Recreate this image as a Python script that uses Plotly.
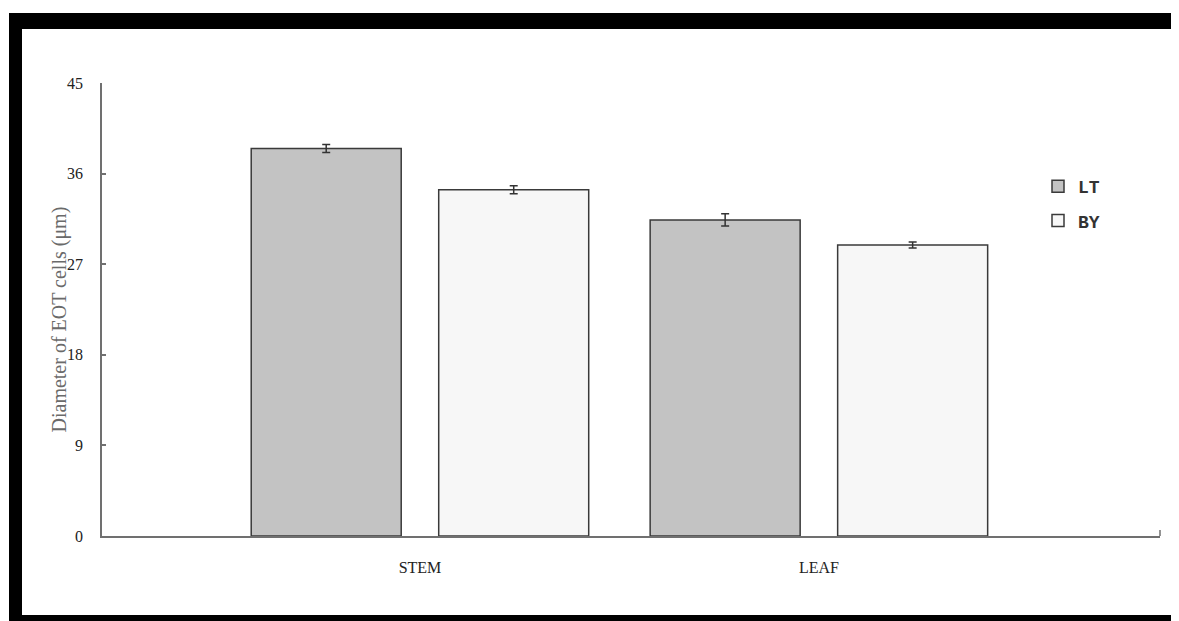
import plotly.graph_objects as go

categories = ["STEM", "LEAF"]
lt_values = [38.5, 31.4]
lt_errors = [0.4, 0.6]
by_values = [34.4, 28.9]
by_errors = [0.4, 0.3]
y_ticks = [0, 9, 18, 27, 36, 45]

OFF = 8  # page body margin
W, H = 1179, 621
L, R, T, B = 102 - OFF, 1160 - OFF, 83 - OFF, 536 - OFF
pw, ph = R - L, B - T

def px(x):
    return (x - OFF - L) / pw

def py(y):
    return (B - (y - OFF)) / ph

fig = go.Figure()
fig.add_trace(go.Bar(
    x=categories, y=lt_values, name="<b>LT</b>",
    marker=dict(color="#c3c3c3", line=dict(color="#3a3a3a", width=1.5)),
    error_y=dict(type="data", array=lt_errors, color="#333333", thickness=1.5, width=4),
    legendgroup="a",
))
fig.add_trace(go.Bar(
    x=categories, y=by_values, name="<b>BY</b>",
    marker=dict(color="#f7f7f7", line=dict(color="#3a3a3a", width=1.5)),
    error_y=dict(type="data", array=by_errors, color="#333333", thickness=1.5, width=4),
    legendgroup="b",
))

shapes = [
    dict(type="rect", xref="paper", yref="paper", x0=px(9), x1=px(22), y0=py(13), y1=py(640),
         fillcolor="black", line=dict(width=0), layer="above"),
    dict(type="rect", xref="paper", yref="paper", x0=px(9), x1=px(1200), y0=py(13), y1=py(29),
         fillcolor="black", line=dict(width=0), layer="above"),
    dict(type="rect", xref="paper", yref="paper", x0=px(9), x1=px(1200), y0=py(615), y1=py(640),
         fillcolor="black", line=dict(width=0), layer="above"),
    dict(type="line", xref="paper", yref="paper", x0=1, x1=1, y0=0, y1=py(530),
         line=dict(color="#707070", width=1.5)),
]

fig.update_layout(
    width=W, height=H,
    margin=dict(l=L, r=W - R, t=T, b=H - B),
    paper_bgcolor="white", plot_bgcolor="white",
    barmode="group", bargap=0.06, bargroupgap=0.2,
    shapes=shapes,
    showlegend=True,
    legend=dict(x=px(1038), y=py(168), xanchor="left", yanchor="top",
                font=dict(family="Liberation Mono", size=18, color="#333333"),
                traceorder="grouped", tracegroupgap=8, itemwidth=30,
                bgcolor="rgba(0,0,0,0)"),
    annotations=[dict(
        text="Diameter of EOT cells (μm)", xref="paper", yref="paper",
        x=px(45), y=py(320), textangle=-90, showarrow=False,
        font=dict(family="Liberation Serif", size=20, color="#6a6a6a"),
    )],
    xaxis=dict(
        type="category", range=[-0.797, 1.855],
        showline=True, linecolor="#707070", linewidth=1.5,
        ticks="", showgrid=False, zeroline=False,
        tickfont=dict(family="Liberation Serif", size=16, color="#222222"),
        ticklabelstandoff=16,
    ),
    yaxis=dict(
        range=[0, 45], tickvals=y_ticks,
        showline=True, linecolor="#707070", linewidth=1.5,
        ticks="inside", ticklen=4, tickcolor="#707070", tickwidth=1.5,
        showgrid=False, zeroline=False,
        tickfont=dict(family="Liberation Serif", size=16, color="#222222"),
        ticklabelstandoff=14,
    ),
)

fig.write_html("out.html")
